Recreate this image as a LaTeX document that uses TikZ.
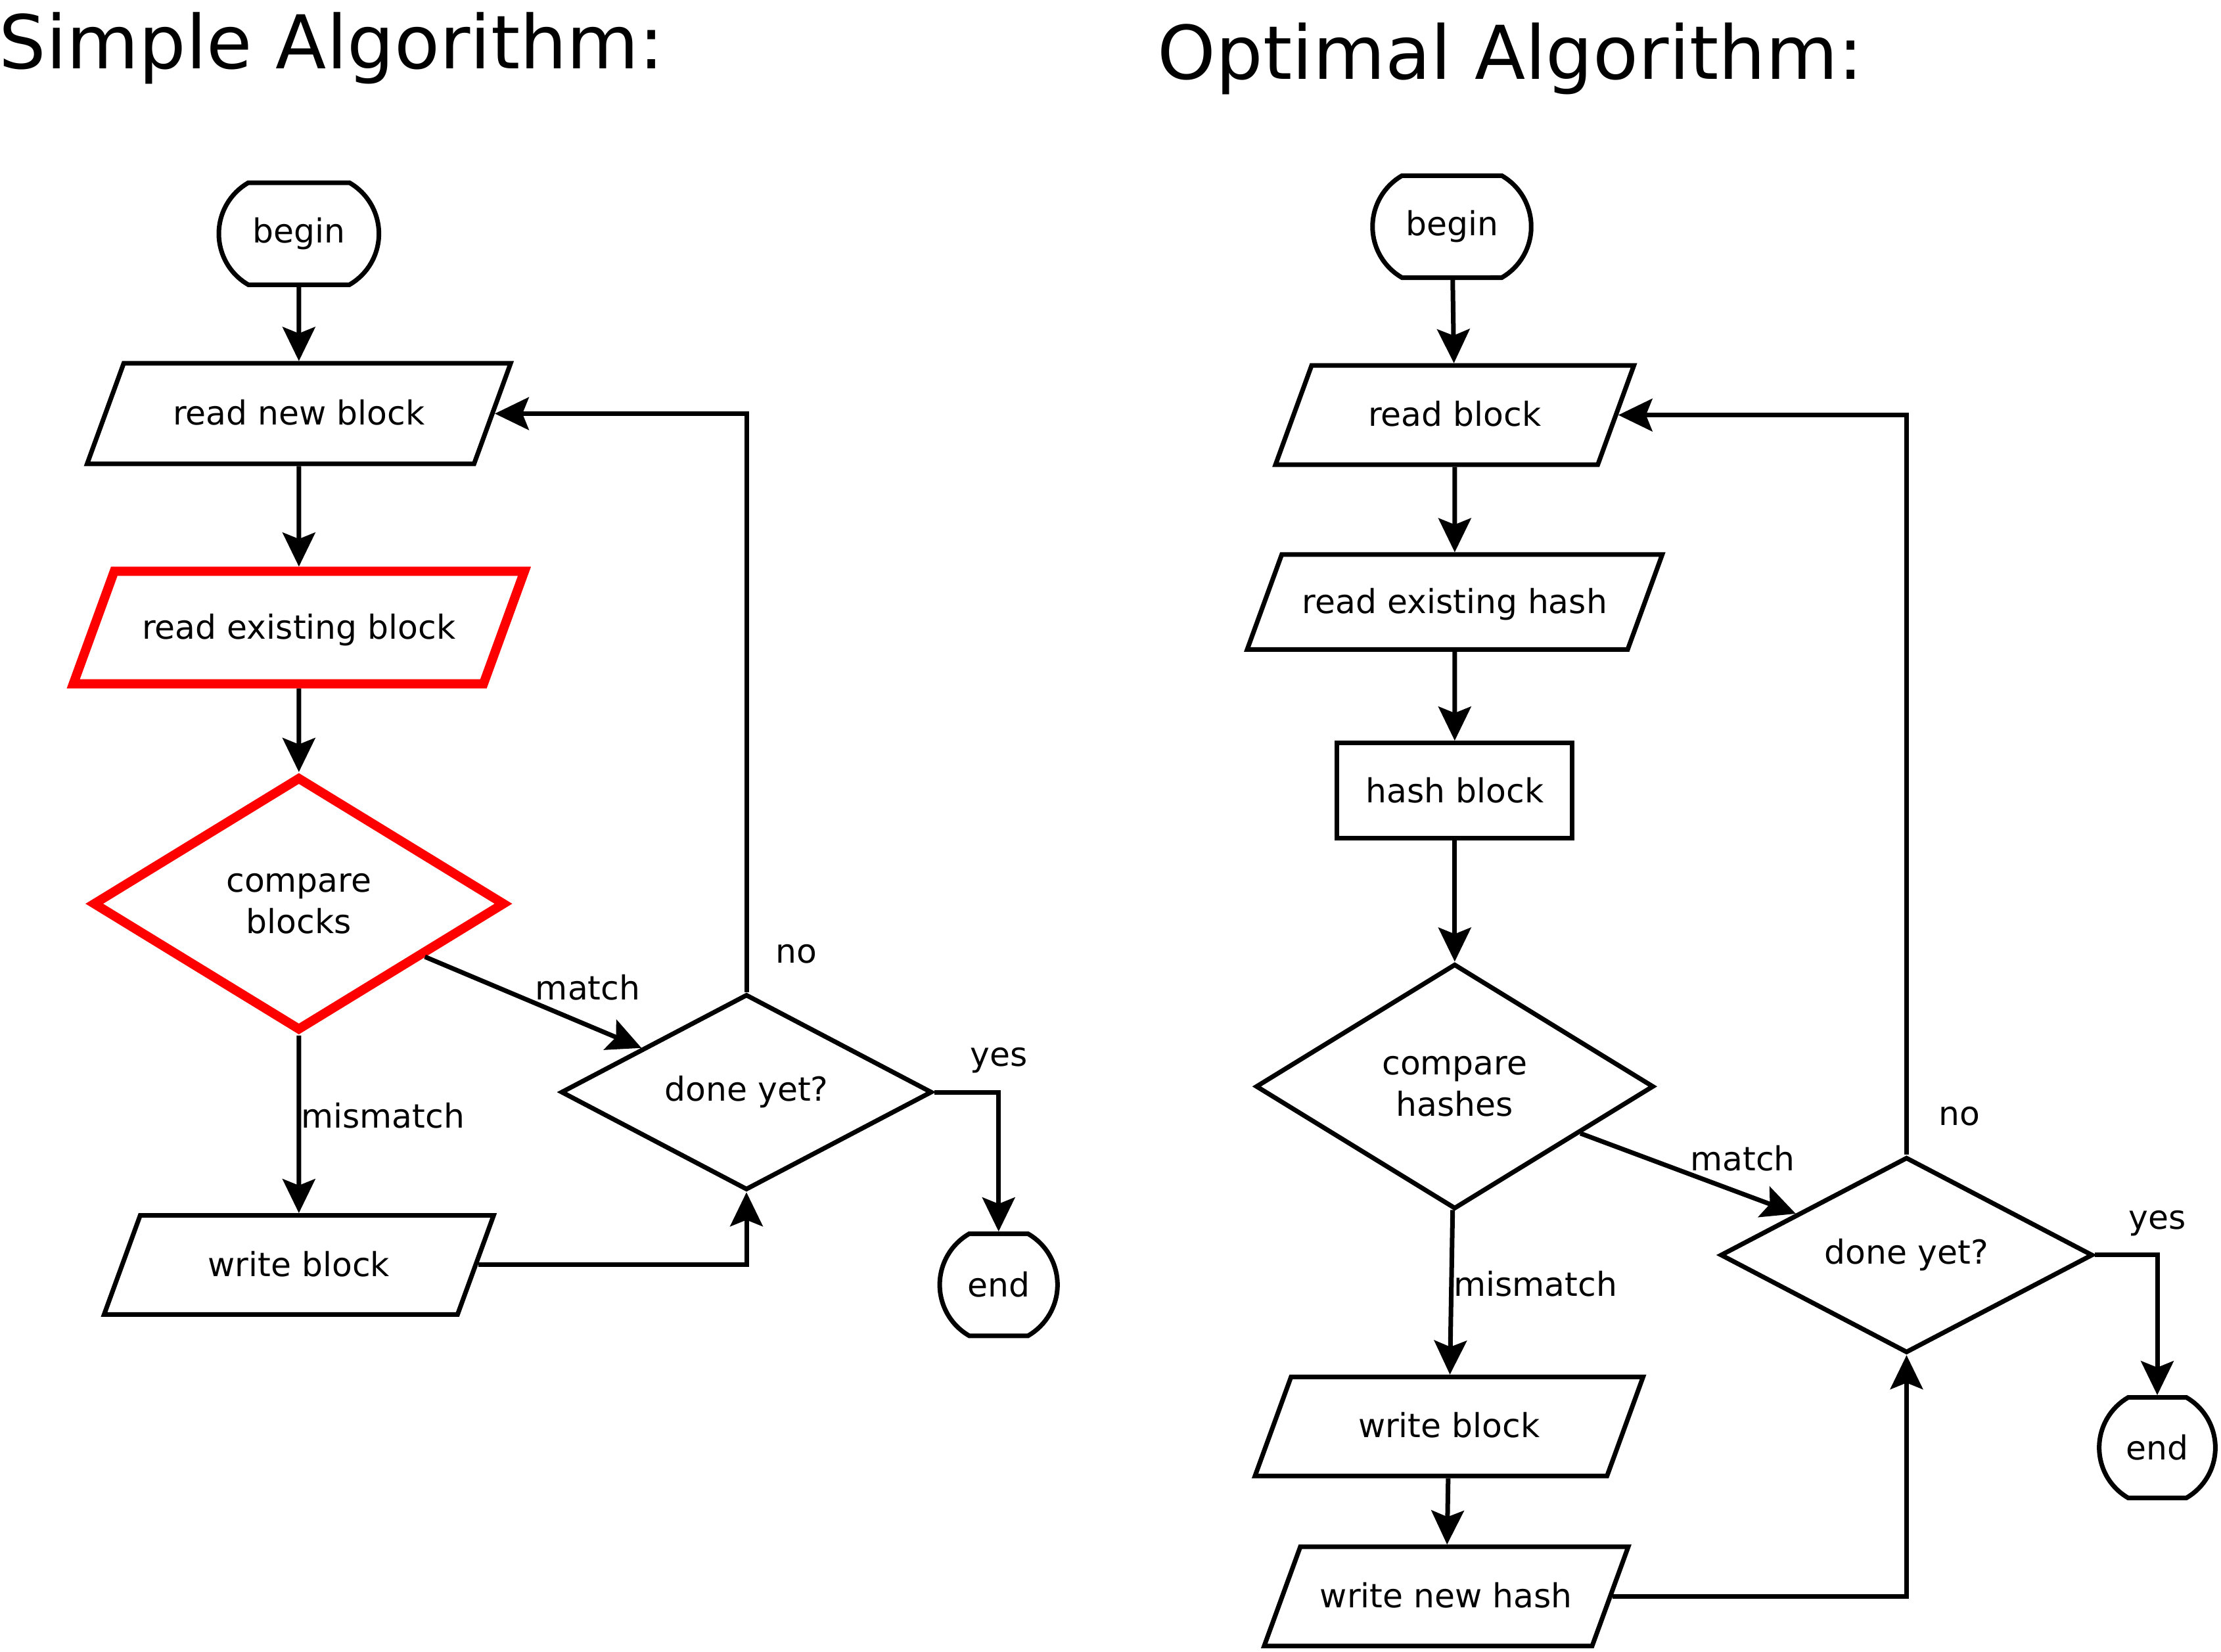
\documentclass[tikz,border=0pt]{standalone}
\usepackage{fontspec}
\setmainfont{DejaVu Sans}
\usetikzlibrary{shapes.geometric,shapes.misc,arrows.meta}

\begin{document}
\begin{tikzpicture}[x=0.2mm,y=-0.2mm,font=\fontsize{13.3}{16.5}\selectfont,
    arr/.style={-{Stealth[length=4.8mm,width=4.6mm,inset=0.9mm]},line width=0.65mm},
    lbl/.style={inner sep=0pt},
    title/.style={anchor=base west,inner sep=0pt,font=\fontsize{29.8}{36}\selectfont}]
    \tikzstyle{terminal}=[draw,rounded rectangle,rounded rectangle arc length=120,
        line width=0.65mm,inner sep=0pt]
    \tikzstyle{io}=[draw,trapezium,trapezium left angle=70,trapezium right angle=110,
        trapezium stretches body,line width=0.65mm,inner xsep=0pt,text height=3.8mm,text depth=0.6mm]
    \tikzstyle{decision}=[draw,diamond,line width=0.65mm,inner sep=0pt,align=center]
    \tikzstyle{process}=[draw,rectangle,line width=0.65mm,inner sep=0pt]
    \tikzstyle{hot}=[draw=red,line width=1.3mm]

    \useasboundingbox (0,0) rectangle (1568,1166);

    \node[title] (t1) at (-1,48.7) {Simple Algorithm:};
    \node[title] (t2) at (817,56) {Optimal Algorithm:};

    % simple algorithm
    \node[terminal,minimum width=22.6mm,minimum height=14.4mm] (b1) at (211,165) {begin};
    \node[io,minimum width=59.8mm,inner ysep=4.9mm] (rn1) at (211,292) {read new block};
    \node[io,hot,minimum width=63.7mm,inner ysep=5.75mm] (re1) at (211,443) {read existing block};
    \node[decision,hot,minimum width=58.3mm,minimum height=35.9mm] (cb1) at (211,638) {compare\\blocks};
    \node[decision,minimum width=52.4mm,minimum height=25.6mm] (dy1) at (527,771) {done yet?};
    \node[io,minimum width=55mm,inner ysep=4.8mm] (wb1) at (211,893) {write block};
    \node[terminal,minimum width=16mm,minimum height=14.4mm] (e1) at (705,907) {end};

    \draw[arr] (b1) -- (rn1);
    \draw[arr] (rn1) -- (re1);
    \draw[arr] (re1) -- (cb1);
    \draw[arr] (cb1) -- node[lbl,pos=.45,anchor=west] {mismatch} (wb1);
    \draw[arr] (cb1) -- node[lbl,pos=.5,anchor=south west] {match} (dy1);
    \draw[arr] (dy1.north) |- node[lbl,pos=.033,anchor=west,xshift=3.8mm] {no} (rn1.east);
    \draw[arr] (dy1.east) -| node[lbl,pos=.5,above=2.4mm] {yes} (e1.north);
    \draw[arr] (wb1.east) -| (dy1.south);

    % optimal algorithm
    \node[terminal,minimum width=22.4mm,minimum height=14.4mm] (b2) at (1025,160) {begin};
    \node[io,minimum width=50.6mm,inner ysep=4.8mm] (rb2) at (1027,293) {read block};
    \node[io,minimum width=58.6mm,inner ysep=4.5mm] (reh2) at (1027,425) {read existing hash};
    \node[process,minimum width=33.2mm,minimum height=13.4mm] (hb2) at (1027,558) {hash block};
    \node[decision,minimum width=56.2mm,minimum height=34.6mm] (ch2) at (1027,767) {compare\\hashes};
    \node[decision,minimum width=52.6mm,minimum height=25.8mm] (dy2) at (1346,886) {done yet?};
    \node[io,minimum width=54.8mm,inner ysep=4.8mm] (wb2) at (1023,1007) {write block};
    \node[io,minimum width=51.4mm,inner ysep=4.8mm] (wnh2) at (1021,1127) {write new hash};
    \node[terminal,minimum width=16mm,minimum height=14.2mm] (e2) at (1523,1022) {end};

    \draw[arr] (b2) -- (rb2);
    \draw[arr] (rb2) -- (reh2);
    \draw[arr] (reh2) -- (hb2);
    \draw[arr] (hb2) -- (ch2);
    \draw[arr] (ch2) -- node[lbl,pos=.45,anchor=west] {mismatch} (wb2);
    \draw[arr] (ch2) -- node[lbl,pos=.5,anchor=south west] {match} (dy2);
    \draw[arr] (dy2.north) |- node[lbl,pos=.026,anchor=west,xshift=4.2mm] {no} (rb2.east);
    \draw[arr] (dy2.east) -| node[lbl,pos=.5,above=2.4mm] {yes} (e2.north);
    \draw[arr] (wb2) -- (wnh2);
    \draw[arr] (wnh2.east) -| (dy2.south);

\end{tikzpicture}
\end{document}
